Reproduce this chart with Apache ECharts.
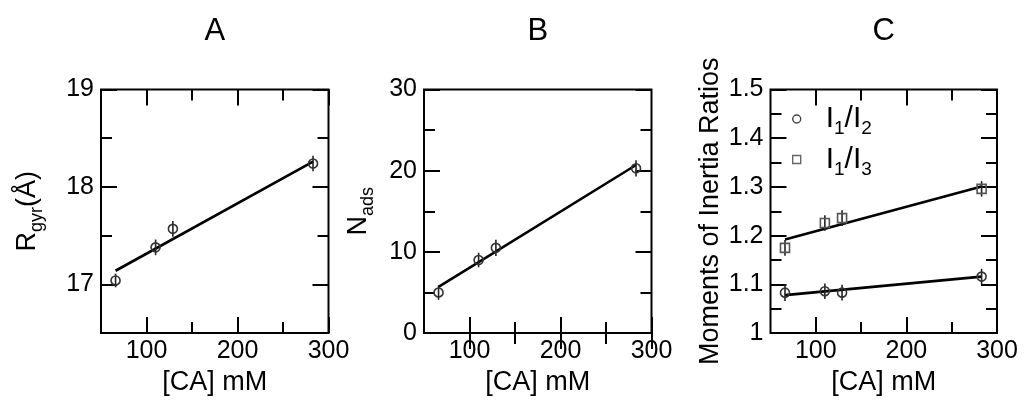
<!DOCTYPE html>
<html><head><meta charset="utf-8">
<script src="https://cdn.jsdelivr.net/npm/echarts@6/dist/echarts.min.js"></script>
<style>html,body{margin:0;padding:0;background:#fff}#c{width:1026px;height:401px}</style>
</head><body><div id="c"></div>
<script>
// ---- data ----
const conc = [66, 110, 129, 283];          // [CA] mM
const fitX = [66, 283];

const rgyr    = [17.04, 17.38, 17.57, 18.24];
const rgyrErr = [0.07, 0.08, 0.08, 0.08];
const rgyrFit = [17.14, 18.26];

const nads    = [5.0, 9.0, 10.5, 20.3];
const nadsErr = [0.9, 0.9, 1.0, 1.0];
const nadsFit = [5.7, 20.7];

const i12    = [1.083, 1.086, 1.083, 1.116];
const i12Err = [0.017, 0.016, 0.016, 0.016];
const i12Fit = [1.078, 1.116];

const i13    = [1.175, 1.226, 1.236, 1.296];
const i13Err = [0.016, 0.016, 0.016, 0.016];
const i13Fit = [1.192, 1.301];

const xMajor = [100, 200, 300];
const xMinor = [150, 250];
const aMajor = [17, 18, 19];
const aMinor = [17.5, 18.5];
const bMajor = [0, 10, 20, 30];
const bMinor = [5, 15, 25];
const cMajor = [1, 1.1, 1.2, 1.3, 1.4, 1.5];
const cMinor = [1.05, 1.15, 1.25, 1.35, 1.45];
const panelTitles = ['A', 'B', 'C'];
const legendNames = ['I1/I2', 'I1/I3'];

// ---- layout / style ----
const F = 'Liberation Sans';
const grids = [
  {left: 101, top: 89.5, width: 227.5, height: 244},
  {left: 424, top: 89.5, width: 227.5, height: 244},
  {left: 770.5, top: 89.5, width: 226.5, height: 244}
];
const yRange = [[16.5, 19], [0, 30], [1, 1.5]];
const yTicks = [[aMajor, aMinor], [bMajor, bMinor], [cMajor, cMinor]];
const yNames = ['{n|R}{s|gyr}{n|(Å)}', '{n|N}{s|ads}', 'Moments of Inertia Ratios'];
const yGaps = [55, 47, 46];
const richName = {
  n: {fontSize: 27, fontFamily: F, color: '#000'},
  s: {fontSize: 18, fontFamily: F, color: '#000', padding: [19, 0, 0, 0]}
};
const tickStyle = {color: '#000', width: 2};
const MAJ = 16, MIN = 11;

function yFmt(g) {
  return v => g === 2 ? (Math.abs(v - 1) < 1e-9 ? '1' : v.toFixed(1)) : String(Math.round(v));
}

const xAxis = [], yAxis = [];
grids.forEach((gr, g) => {
  const xb = {type: 'value', gridIndex: g, min: 50, max: 300, splitLine: {show: false}, axisLine: {show: false}, axisLabel: {show: false}};
  xAxis.push(Object.assign({}, xb, {
    position: 'bottom',
    axisTick: {inside: true, length: MAJ, customValues: xMajor, lineStyle: tickStyle},
    axisLabel: {show: true, customValues: xMajor, fontSize: 25, fontFamily: F, color: '#000', margin: 6},
    name: '[CA] mM', nameLocation: 'middle', nameGap: 31,
    nameTextStyle: {fontSize: 27, fontFamily: F, color: '#000'}
  }));
  xAxis.push(Object.assign({}, xb, {position: 'bottom', axisTick: {inside: true, length: MIN, customValues: xMinor, lineStyle: tickStyle}}));
  xAxis.push(Object.assign({}, xb, {position: 'top', axisTick: {inside: true, length: MAJ, customValues: xMajor, lineStyle: tickStyle}}));
  xAxis.push(Object.assign({}, xb, {position: 'top', axisTick: {inside: true, length: MIN, customValues: xMinor, lineStyle: tickStyle}}));

  const [mj, mn] = yTicks[g];
  const yb = {type: 'value', gridIndex: g, min: yRange[g][0], max: yRange[g][1], splitLine: {show: false}, axisLine: {show: false}, axisLabel: {show: false}};
  yAxis.push(Object.assign({}, yb, {
    position: 'left',
    axisTick: {inside: true, length: MAJ, customValues: mj, lineStyle: tickStyle},
    axisLabel: {show: true, customValues: mj, formatter: yFmt(g), fontSize: 25, fontFamily: F, color: '#000', margin: 7},
    name: yNames[g], nameLocation: 'middle', nameGap: yGaps[g], nameRotate: 90,
    nameTextStyle: {fontSize: 27, fontFamily: F, color: '#000', rich: richName}
  }));
  yAxis.push(Object.assign({}, yb, {position: 'left', axisTick: {inside: true, length: MIN, customValues: mn, lineStyle: tickStyle}}));
  yAxis.push(Object.assign({}, yb, {position: 'right', axisTick: {inside: true, length: MAJ, customValues: mj, lineStyle: tickStyle}}));
  yAxis.push(Object.assign({}, yb, {position: 'right', axisTick: {inside: true, length: MIN, customValues: mn, lineStyle: tickStyle}}));
});

function errRender(params, api) {
  const x = api.value(0);
  const p1 = api.coord([x, api.value(1)]);
  const p2 = api.coord([x, api.value(2)]);
  return {type: 'line', shape: {x1: p1[0], y1: p1[1], x2: p2[0], y2: p2[1]},
          style: {stroke: '#222', lineWidth: 1.6}};
}

const series = [];
function addSet(g, name, vals, errs, fit, symbol, stroke) {
  const ax = {xAxisIndex: g * 4, yAxisIndex: g * 4};
  series.push(Object.assign({type: 'line', symbol: 'none', silent: true, z: 2,
    lineStyle: {color: '#000', width: 2.6},
    data: fitX.map((x, i) => [x, fit[i]])}, ax));
  series.push(Object.assign({type: 'custom', renderItem: errRender, silent: true, z: 3,
    data: conc.map((x, i) => [x, vals[i] - errs[i], vals[i] + errs[i]])}, ax));
  series.push(Object.assign({type: 'scatter', name: name, symbol: symbol, symbolSize: 9, z: 4,
    itemStyle: {color: 'rgba(0,0,0,0)', borderColor: stroke, borderWidth: 1.6, opacity: 1},
    data: conc.map((x, i) => [x, vals[i]])}, ax));
}
addSet(0, 'Rgyr', rgyr, rgyrErr, rgyrFit, 'circle', '#333');
addSet(1, 'Nads', nads, nadsErr, nadsFit, 'circle', '#333');
addSet(2, legendNames[0], i12, i12Err, i12Fit, 'circle', '#333');
addSet(2, legendNames[1], i13, i13Err, i13Fit, 'rect', '#555');

const option = {
  animation: false,
  backgroundColor: '#fff',
  title: panelTitles.map((t, i) => ({
    text: t, left: grids[i].left + grids[i].width / 2, top: 15.5, textAlign: 'center', padding: 0,
    textStyle: {fontSize: 31, fontWeight: 'normal', fontFamily: F, color: '#000'}
  })),
  grid: grids.map(gr => Object.assign({show: true, borderColor: '#000', borderWidth: 2, backgroundColor: 'transparent', containLabel: false}, gr)),
  legend: {
    orient: 'vertical', left: 792, top: 104, itemWidth: 8, itemHeight: 8, itemGap: 6,
    selectedMode: false, padding: 0,
    data: [
      {name: legendNames[0], icon: 'circle', itemStyle: {color: 'rgba(0,0,0,0)', borderColor: '#444', borderWidth: 1.4}},
      {name: legendNames[1], icon: 'rect', itemStyle: {color: 'rgba(0,0,0,0)', borderColor: '#666', borderWidth: 1.4}}
    ],
    formatter: name => '{g|}' + name.replace(/(\D+)|(\d)/g, (m, a, b) => a ? '{n|' + a + '}' : '{s|' + b + '}'),
    textStyle: {
      color: '#000', fontFamily: F,
      rich: {
        g: {width: 20},
        n: {fontSize: 30, fontFamily: F, color: '#000'},
        s: {fontSize: 19, fontFamily: F, color: '#000', padding: [20, 0, 0, 0]}
      }
    }
  },
  xAxis: xAxis,
  yAxis: yAxis,
  series: series
};

const chart = echarts.init(document.getElementById('c'), null, {renderer: 'canvas'});
chart.setOption(option);
</script>
</body></html>
